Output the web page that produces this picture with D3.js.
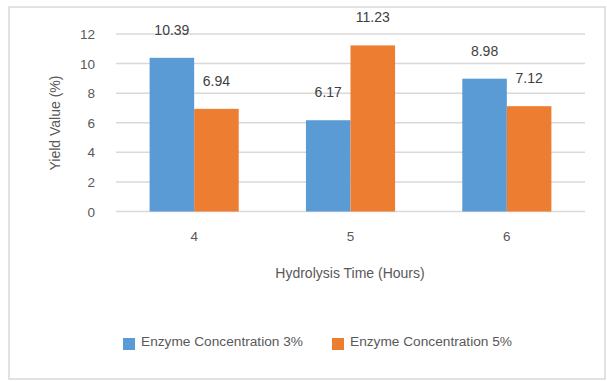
<!DOCTYPE html>
<html><head><meta charset="utf-8">
<script src="https://cdn.jsdelivr.net/npm/d3@7"></script>
<style>body{margin:0;background:#fff;} text{font-family:"Liberation Sans",Arial,sans-serif;}</style>
</head><body>
<svg id="c" width="607" height="381"></svg>
<script>
const categories = ["4","5","6"];
const seriesNames = ["Enzyme Concentration 3%","Enzyme Concentration 5%"];
const enzyme3 = [10.39, 6.17, 8.98];
const enzyme5 = [6.94, 11.23, 7.12];
const yTicks = [0,2,4,6,8,10,12];
const colors = ["#5B9BD5","#ED7D31"];

(function(){
const svg = d3.select("#c");
svg.append("rect").attr("x",9).attr("y",7).attr("width",596).attr("height",372)
  .attr("fill","#fff").attr("stroke","#D9D9D9").attr("stroke-width",1.5);

const pLeft=116, pRight=585, pTop=34, pBottom=211.5;
const x = d3.scaleBand().domain(categories).range([pLeft,pRight]).paddingInner(0.43).paddingOuter(0.215);
const xs = d3.scaleBand().domain([0,1]).range([0,x.bandwidth()]);
const y = d3.scaleLinear().domain([0,12]).range([pBottom,pTop]);

svg.append("g").selectAll("line").data(yTicks).join("line")
  .attr("x1",pLeft).attr("x2",pRight).attr("y1",d=>y(d)).attr("y2",d=>y(d))
  .attr("stroke","#D9D9D9").attr("stroke-width",1.5);

svg.append("g").selectAll("text").data(yTicks).join("text")
  .attr("x",95).attr("y",d=>y(d)+5).attr("text-anchor","end")
  .attr("font-size",13.5).attr("fill","#595959").text(d=>d);

const data = categories.map((c,i)=>[enzyme3[i],enzyme5[i]]);
const g = svg.append("g");
categories.forEach((c,i)=>{
  data[i].forEach((v,j)=>{
    g.append("rect").attr("x",x(c)+xs(j)).attr("y",y(v)).attr("width",xs.bandwidth())
      .attr("height",y(0)-y(v)).attr("fill",colors[j]);
    g.append("text").attr("x",x(c)+xs(j)+xs.bandwidth()/2).attr("y",y(v)-28+5)
      .attr("text-anchor","middle").attr("font-size",14).attr("fill","#404040").text(v.toFixed(2));
  });
});

svg.append("g").selectAll("text").data(categories).join("text")
  .attr("x",d=>x(d)+x.bandwidth()/2).attr("y",241).attr("text-anchor","middle")
  .attr("font-size",13.5).attr("fill","#595959").text(d=>d);

svg.append("text").attr("x",350).attr("y",277.5).attr("text-anchor","middle")
  .attr("font-size",14).attr("fill","#595959").text("Hydrolysis Time (Hours)");

svg.append("text").attr("transform","translate(60,123) rotate(-90)").attr("text-anchor","middle")
  .attr("font-size",14).attr("fill","#595959").text("Yield Value (%)");

const legX=[123,332];
seriesNames.forEach((n,j)=>{
  svg.append("rect").attr("x",legX[j]).attr("y",338).attr("width",12).attr("height",12).attr("fill",colors[j]);
  svg.append("text").attr("x",legX[j]+18).attr("y",345.5).attr("font-size",12.5).attr("fill","#595959")
    .attr("textLength",162).attr("lengthAdjust","spacingAndGlyphs").text(n);
});
})();
</script>
</body></html>
